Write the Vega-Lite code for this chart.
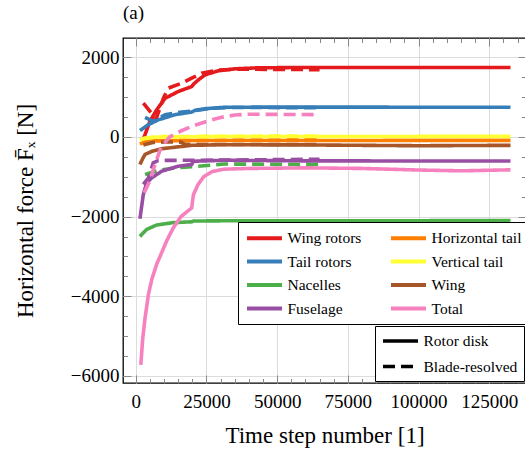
{
  "$schema": "https://vega.github.io/schema/vega-lite/v6.json",
  "width": 403,
  "height": 345,
  "autosize": "none",
  "padding": {"left": 123, "top": 38, "right": 0, "bottom": 75},
  "config": {
    "view": {"stroke": "black", "strokeWidth": 1.3},
    "font": "Liberation Serif"
  },
  "title": {"text": "(a)", "anchor": "start", "frame": "group", "fontSize": 19, "fontWeight": "normal", "font": "Liberation Serif", "color": "black", "offset": 15},
  "data": {"values": [
    {"series": "Wing rotors", "type": "Rotor disk", "x": 2500, "y": -80},
    {"series": "Wing rotors", "type": "Rotor disk", "x": 3300, "y": 60},
    {"series": "Wing rotors", "type": "Rotor disk", "x": 5000, "y": 390},
    {"series": "Wing rotors", "type": "Rotor disk", "x": 7400, "y": 680},
    {"series": "Wing rotors", "type": "Rotor disk", "x": 10400, "y": 970},
    {"series": "Wing rotors", "type": "Rotor disk", "x": 15000, "y": 1140},
    {"series": "Wing rotors", "type": "Rotor disk", "x": 19800, "y": 1265},
    {"series": "Wing rotors", "type": "Rotor disk", "x": 20500, "y": 1330},
    {"series": "Wing rotors", "type": "Rotor disk", "x": 22100, "y": 1430},
    {"series": "Wing rotors", "type": "Rotor disk", "x": 24500, "y": 1560},
    {"series": "Wing rotors", "type": "Rotor disk", "x": 29200, "y": 1660},
    {"series": "Wing rotors", "type": "Rotor disk", "x": 35000, "y": 1710},
    {"series": "Wing rotors", "type": "Rotor disk", "x": 43000, "y": 1735},
    {"series": "Wing rotors", "type": "Rotor disk", "x": 60000, "y": 1745},
    {"series": "Wing rotors", "type": "Rotor disk", "x": 132500, "y": 1745},
    {"series": "Wing rotors", "type": "Blade-resolved", "x": 2700, "y": 850},
    {"series": "Wing rotors", "type": "Blade-resolved", "x": 7200, "y": 450},
    {"series": "Wing rotors", "type": "Blade-resolved", "x": 9800, "y": 975},
    {"series": "Wing rotors", "type": "Blade-resolved", "x": 11500, "y": 1225},
    {"series": "Wing rotors", "type": "Blade-resolved", "x": 16300, "y": 1350},
    {"series": "Wing rotors", "type": "Blade-resolved", "x": 19800, "y": 1475},
    {"series": "Wing rotors", "type": "Blade-resolved", "x": 23300, "y": 1600},
    {"series": "Wing rotors", "type": "Blade-resolved", "x": 29200, "y": 1680},
    {"series": "Wing rotors", "type": "Blade-resolved", "x": 36000, "y": 1700},
    {"series": "Wing rotors", "type": "Blade-resolved", "x": 65000, "y": 1690},
    {"series": "Tail rotors", "type": "Rotor disk", "x": 1500, "y": 160},
    {"series": "Tail rotors", "type": "Rotor disk", "x": 4500, "y": 310},
    {"series": "Tail rotors", "type": "Rotor disk", "x": 8000, "y": 430},
    {"series": "Tail rotors", "type": "Rotor disk", "x": 13900, "y": 560},
    {"series": "Tail rotors", "type": "Rotor disk", "x": 19800, "y": 625},
    {"series": "Tail rotors", "type": "Rotor disk", "x": 21000, "y": 670},
    {"series": "Tail rotors", "type": "Rotor disk", "x": 24500, "y": 710},
    {"series": "Tail rotors", "type": "Rotor disk", "x": 31500, "y": 745},
    {"series": "Tail rotors", "type": "Rotor disk", "x": 50000, "y": 750},
    {"series": "Tail rotors", "type": "Rotor disk", "x": 132500, "y": 745},
    {"series": "Tail rotors", "type": "Blade-resolved", "x": 3300, "y": 490},
    {"series": "Tail rotors", "type": "Blade-resolved", "x": 6200, "y": 390},
    {"series": "Tail rotors", "type": "Blade-resolved", "x": 10400, "y": 560},
    {"series": "Tail rotors", "type": "Blade-resolved", "x": 16300, "y": 625},
    {"series": "Tail rotors", "type": "Blade-resolved", "x": 21000, "y": 660},
    {"series": "Tail rotors", "type": "Blade-resolved", "x": 26900, "y": 720},
    {"series": "Tail rotors", "type": "Blade-resolved", "x": 33000, "y": 740},
    {"series": "Tail rotors", "type": "Blade-resolved", "x": 65000, "y": 735},
    {"series": "Nacelles", "type": "Rotor disk", "x": 1500, "y": -2500},
    {"series": "Nacelles", "type": "Rotor disk", "x": 2500, "y": -2420},
    {"series": "Nacelles", "type": "Rotor disk", "x": 3900, "y": -2320},
    {"series": "Nacelles", "type": "Rotor disk", "x": 7400, "y": -2210},
    {"series": "Nacelles", "type": "Rotor disk", "x": 13300, "y": -2150},
    {"series": "Nacelles", "type": "Rotor disk", "x": 19800, "y": -2130},
    {"series": "Nacelles", "type": "Rotor disk", "x": 20400, "y": -2110},
    {"series": "Nacelles", "type": "Rotor disk", "x": 30000, "y": -2105},
    {"series": "Nacelles", "type": "Rotor disk", "x": 132500, "y": -2100},
    {"series": "Nacelles", "type": "Blade-resolved", "x": 3300, "y": -940},
    {"series": "Nacelles", "type": "Blade-resolved", "x": 8000, "y": -840},
    {"series": "Nacelles", "type": "Blade-resolved", "x": 13900, "y": -775},
    {"series": "Nacelles", "type": "Blade-resolved", "x": 22100, "y": -735},
    {"series": "Nacelles", "type": "Blade-resolved", "x": 31500, "y": -680},
    {"series": "Nacelles", "type": "Blade-resolved", "x": 65000, "y": -690},
    {"series": "Fuselage", "type": "Rotor disk", "x": 1500, "y": -2050},
    {"series": "Fuselage", "type": "Rotor disk", "x": 2700, "y": -1440},
    {"series": "Fuselage", "type": "Rotor disk", "x": 3900, "y": -1150},
    {"series": "Fuselage", "type": "Rotor disk", "x": 5700, "y": -1025},
    {"series": "Fuselage", "type": "Rotor disk", "x": 9200, "y": -860},
    {"series": "Fuselage", "type": "Rotor disk", "x": 15000, "y": -735},
    {"series": "Fuselage", "type": "Rotor disk", "x": 19800, "y": -690},
    {"series": "Fuselage", "type": "Rotor disk", "x": 20400, "y": -610},
    {"series": "Fuselage", "type": "Rotor disk", "x": 31500, "y": -585},
    {"series": "Fuselage", "type": "Rotor disk", "x": 60000, "y": -600},
    {"series": "Fuselage", "type": "Rotor disk", "x": 132500, "y": -605},
    {"series": "Fuselage", "type": "Blade-resolved", "x": 2700, "y": -1190},
    {"series": "Fuselage", "type": "Blade-resolved", "x": 4500, "y": -1025},
    {"series": "Fuselage", "type": "Blade-resolved", "x": 6200, "y": -650},
    {"series": "Fuselage", "type": "Blade-resolved", "x": 8000, "y": -590},
    {"series": "Fuselage", "type": "Blade-resolved", "x": 30000, "y": -580},
    {"series": "Fuselage", "type": "Blade-resolved", "x": 65000, "y": -560},
    {"series": "Horizontal tail", "type": "Rotor disk", "x": 1500, "y": -180},
    {"series": "Horizontal tail", "type": "Rotor disk", "x": 3000, "y": -130},
    {"series": "Horizontal tail", "type": "Rotor disk", "x": 6000, "y": -100},
    {"series": "Horizontal tail", "type": "Rotor disk", "x": 20000, "y": -90},
    {"series": "Horizontal tail", "type": "Rotor disk", "x": 132500, "y": -85},
    {"series": "Horizontal tail", "type": "Blade-resolved", "x": 2500, "y": -150},
    {"series": "Horizontal tail", "type": "Blade-resolved", "x": 6000, "y": -90},
    {"series": "Horizontal tail", "type": "Blade-resolved", "x": 65000, "y": -70},
    {"series": "Vertical tail", "type": "Rotor disk", "x": 1500, "y": -80},
    {"series": "Vertical tail", "type": "Rotor disk", "x": 3000, "y": -30},
    {"series": "Vertical tail", "type": "Rotor disk", "x": 8000, "y": 0},
    {"series": "Vertical tail", "type": "Rotor disk", "x": 30000, "y": 10},
    {"series": "Vertical tail", "type": "Rotor disk", "x": 132500, "y": 15},
    {"series": "Vertical tail", "type": "Blade-resolved", "x": 2500, "y": -50},
    {"series": "Vertical tail", "type": "Blade-resolved", "x": 8000, "y": 10},
    {"series": "Vertical tail", "type": "Blade-resolved", "x": 65000, "y": 25},
    {"series": "Wing", "type": "Rotor disk", "x": 1500, "y": -690},
    {"series": "Wing", "type": "Rotor disk", "x": 2500, "y": -540},
    {"series": "Wing", "type": "Rotor disk", "x": 3300, "y": -440},
    {"series": "Wing", "type": "Rotor disk", "x": 5700, "y": -360},
    {"series": "Wing", "type": "Rotor disk", "x": 9200, "y": -295},
    {"series": "Wing", "type": "Rotor disk", "x": 19800, "y": -210},
    {"series": "Wing", "type": "Rotor disk", "x": 30000, "y": -195},
    {"series": "Wing", "type": "Rotor disk", "x": 60000, "y": -200},
    {"series": "Wing", "type": "Rotor disk", "x": 100000, "y": -220},
    {"series": "Wing", "type": "Rotor disk", "x": 132500, "y": -210},
    {"series": "Wing", "type": "Blade-resolved", "x": 2700, "y": -200},
    {"series": "Wing", "type": "Blade-resolved", "x": 6000, "y": -140},
    {"series": "Wing", "type": "Blade-resolved", "x": 10000, "y": -125},
    {"series": "Wing", "type": "Blade-resolved", "x": 16000, "y": -130},
    {"series": "Wing", "type": "Blade-resolved", "x": 17500, "y": -190},
    {"series": "Wing", "type": "Blade-resolved", "x": 65000, "y": -190},
    {"series": "Total", "type": "Rotor disk", "x": 1800, "y": -5720},
    {"series": "Total", "type": "Rotor disk", "x": 2500, "y": -5050},
    {"series": "Total", "type": "Rotor disk", "x": 3300, "y": -4550},
    {"series": "Total", "type": "Rotor disk", "x": 4500, "y": -3950},
    {"series": "Total", "type": "Rotor disk", "x": 5700, "y": -3570},
    {"series": "Total", "type": "Rotor disk", "x": 7500, "y": -3180},
    {"series": "Total", "type": "Rotor disk", "x": 9200, "y": -2900},
    {"series": "Total", "type": "Rotor disk", "x": 11000, "y": -2600},
    {"series": "Total", "type": "Rotor disk", "x": 13300, "y": -2280},
    {"series": "Total", "type": "Rotor disk", "x": 16000, "y": -2000},
    {"series": "Total", "type": "Rotor disk", "x": 19800, "y": -1780},
    {"series": "Total", "type": "Rotor disk", "x": 20400, "y": -1450},
    {"series": "Total", "type": "Rotor disk", "x": 22000, "y": -1200},
    {"series": "Total", "type": "Rotor disk", "x": 24000, "y": -1000},
    {"series": "Total", "type": "Rotor disk", "x": 27000, "y": -870},
    {"series": "Total", "type": "Rotor disk", "x": 31000, "y": -810},
    {"series": "Total", "type": "Rotor disk", "x": 40000, "y": -790},
    {"series": "Total", "type": "Rotor disk", "x": 60000, "y": -775},
    {"series": "Total", "type": "Rotor disk", "x": 80000, "y": -790},
    {"series": "Total", "type": "Rotor disk", "x": 100000, "y": -830},
    {"series": "Total", "type": "Rotor disk", "x": 115000, "y": -850},
    {"series": "Total", "type": "Rotor disk", "x": 132500, "y": -825},
    {"series": "Total", "type": "Blade-resolved", "x": 3000, "y": -1400},
    {"series": "Total", "type": "Blade-resolved", "x": 5000, "y": -1100},
    {"series": "Total", "type": "Blade-resolved", "x": 7000, "y": -650},
    {"series": "Total", "type": "Blade-resolved", "x": 9000, "y": -250},
    {"series": "Total", "type": "Blade-resolved", "x": 12000, "y": 0},
    {"series": "Total", "type": "Blade-resolved", "x": 16000, "y": 150},
    {"series": "Total", "type": "Blade-resolved", "x": 20000, "y": 270},
    {"series": "Total", "type": "Blade-resolved", "x": 25000, "y": 390},
    {"series": "Total", "type": "Blade-resolved", "x": 30000, "y": 490},
    {"series": "Total", "type": "Blade-resolved", "x": 35000, "y": 550},
    {"series": "Total", "type": "Blade-resolved", "x": 40000, "y": 570},
    {"series": "Total", "type": "Blade-resolved", "x": 65000, "y": 560}
  ]},
  "layer": [
    {
      "mark": {"type": "line", "strokeWidth": 3.6, "clip": true},
      "encoding": {
        "x": {
          "field": "x", "type": "quantitative",
          "scale": {"domain": [-4490, 137970], "nice": false, "zero": false},
          "axis": {
            "orient": "bottom",
            "values": [0,5000,10000,15000,20000,25000,30000,35000,40000,45000,50000,55000,60000,65000,70000,75000,80000,85000,90000,95000,100000,105000,110000,115000,120000,125000,130000,135000],
            "format": "d",
            "labelExpr": "datum.value % 25000 === 0 ? datum.label : ''",
            "labelOverlap": false,
            "labelFlush": false,
            "labelFont": "Liberation Serif",
            "labelFontSize": 19,
            "labelColor": "black",
            "labelPadding": 17,
            "tickSize": {"condition": {"test": "datum.value % 25000 === 0", "value": -8}, "value": -4.5},
            "tickColor": "#888888",
            "tickWidth": 1,
            "grid": true,
            "gridColor": "#dcdcdc",
            "gridOpacity": {"condition": {"test": "datum.value % 25000 === 0", "value": 1}, "value": 0},
            "domain": false,
            "title": "Time step number [1]",
            "titleFont": "Liberation Serif",
            "titleFontSize": 23,
            "titleFontWeight": "normal",
            "titleColor": "black",
            "titlePadding": 10
          }
        },
        "y": {
          "field": "y", "type": "quantitative",
          "scale": {"domain": [-6176, 2484], "nice": false, "zero": false},
          "axis": {
            "orient": "left",
            "values": [-6000,-5500,-5000,-4500,-4000,-3500,-3000,-2500,-2000,-1500,-1000,-500,0,500,1000,1500,2000],
            "format": "d",
            "labelExpr": "datum.value % 2000 === 0 ? datum.label : ''",
            "labelOverlap": false,
            "labelFlush": false,
            "labelFont": "Liberation Serif",
            "labelFontSize": 19,
            "labelColor": "black",
            "labelPadding": 12,
            "tickSize": {"condition": {"test": "datum.value % 2000 === 0", "value": -8}, "value": -4.5},
            "tickColor": "#888888",
            "tickWidth": 1,
            "grid": true,
            "gridColor": "#dcdcdc",
            "gridOpacity": {"condition": {"test": "datum.value % 2000 === 0", "value": 1}, "value": 0},
            "domain": false,
            "title": "Horizontal force F̄ₓ [N]",
            "titleFont": "Liberation Serif",
            "titleFontSize": 23,
            "titleFontWeight": "normal",
            "titleColor": "black",
            "titlePadding": 33
          }
        },
        "color": {
          "field": "series", "type": "nominal",
          "scale": {
            "domain": ["Wing rotors", "Tail rotors", "Nacelles", "Fuselage", "Horizontal tail", "Vertical tail", "Wing", "Total"],
            "range": ["#e41a1c", "#377eb8", "#4daf4a", "#984ea3", "#ff7f00", "#ffff33", "#a65628", "#f781bf"]
          },
          "legend": {
            "orient": "none", "legendX": 115, "legendY": 184,
            "columns": 2, "title": null,
            "strokeColor": "black", "fillColor": "white", "padding": 7,
            "symbolType": "M-2.5,0H2.5", "symbolSize": 196, "symbolStrokeWidth": 4, "symbolOffset": 10.5,
            "labelFont": "Liberation Serif", "labelFontSize": 15.5, "labelColor": "black",
            "labelOffset": 14, "rowPadding": 5.5, "columnPadding": 21, "labelLimit": 200
          }
        },
        "strokeDash": {
          "field": "type", "type": "nominal",
          "scale": {"domain": ["Rotor disk", "Blade-resolved"], "range": [[1, 0], [12, 6]]},
          "legend": {
            "orient": "none", "legendX": 252, "legendY": 288,
            "title": null,
            "strokeColor": "black", "fillColor": "white", "padding": 6,
            "symbolType": "M-2.5,0H2.5", "symbolSize": 196, "symbolStrokeWidth": 3.5, "symbolStrokeColor": "black", "symbolOffset": 10.5,
            "labelFont": "Liberation Serif", "labelFontSize": 15.5, "labelColor": "black",
            "labelOffset": 14, "rowPadding": 7.5, "labelLimit": 200
          }
        }
      }
    },
    {
      "data": {"values": [{"x": 0, "y": 0}]},
      "mark": {"type": "point", "opacity": 0},
      "encoding": {
        "x": {
          "field": "x", "type": "quantitative",
          "axis": {
            "orient": "top",
            "values": [0,5000,10000,15000,20000,25000,30000,35000,40000,45000,50000,55000,60000,65000,70000,75000,80000,85000,90000,95000,100000,105000,110000,115000,120000,125000,130000,135000],
            "labels": false, "grid": false, "domain": false, "title": null,
            "tickSize": {"condition": {"test": "datum.value % 25000 === 0", "value": -8}, "value": -4.5},
            "tickColor": "#888888", "tickWidth": 1
          }
        },
        "y": {
          "field": "y", "type": "quantitative",
          "axis": {
            "orient": "right",
            "values": [-6000,-5500,-5000,-4500,-4000,-3500,-3000,-2500,-2000,-1500,-1000,-500,0,500,1000,1500,2000],
            "labels": false, "grid": false, "domain": false, "title": null,
            "tickSize": {"condition": {"test": "datum.value % 2000 === 0", "value": -8}, "value": -4.5},
            "tickColor": "#888888", "tickWidth": 1
          }
        }
      }
    }
  ],
  "resolve": {"axis": {"x": "independent", "y": "independent"}}
}
